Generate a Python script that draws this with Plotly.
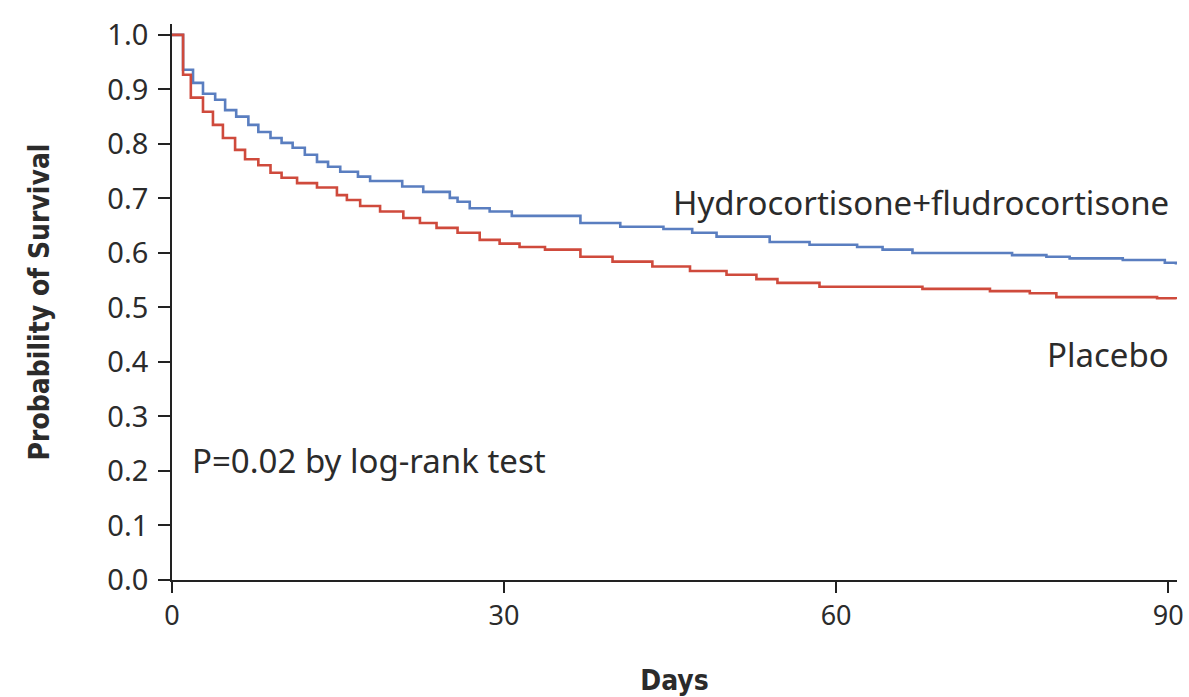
import plotly.graph_objects as go

# Kaplan-Meier step data
hf_days = [0, 1.0, 1.9, 2.8, 3.9, 4.8, 5.8, 6.9, 7.8, 8.9, 9.9, 10.9, 12.0, 13.1, 14.1, 15.2,
           16.8, 17.9, 20.8, 22.7, 25.1, 25.8, 26.9, 28.7, 30.7, 36.9, 40.5, 44.4, 47.0, 49.2,
           54.0, 57.6, 61.9, 64.2, 66.9, 75.9, 79.0, 81.1, 85.9, 89.7, 90.7]
hf_surv = [1.0, 0.936, 0.912, 0.892, 0.881, 0.862, 0.850, 0.835, 0.822, 0.811, 0.802, 0.793, 0.780,
           0.767, 0.758, 0.749, 0.740, 0.732, 0.722, 0.712, 0.701, 0.694, 0.682, 0.676, 0.668,
           0.655, 0.648, 0.644, 0.637, 0.630, 0.620, 0.615, 0.611, 0.606, 0.600, 0.596, 0.593,
           0.590, 0.587, 0.582, 0.579]

pl_days = [0, 1.0, 1.7, 2.8, 3.7, 4.6, 5.7, 6.6, 7.8, 8.9, 9.9, 11.3, 13.1, 14.9, 15.8, 17.0,
           18.8, 20.9, 22.4, 23.9, 25.8, 27.8, 29.6, 31.4, 33.7, 36.9, 39.8, 43.4, 46.8, 50.1,
           52.8, 54.7, 58.5, 67.8, 73.9, 77.5, 79.9, 89.0, 90.7]
pl_surv = [1.0, 0.927, 0.885, 0.859, 0.835, 0.811, 0.789, 0.772, 0.761, 0.747, 0.738, 0.728, 0.720,
           0.706, 0.697, 0.686, 0.676, 0.664, 0.655, 0.646, 0.637, 0.624, 0.617, 0.611, 0.606,
           0.593, 0.584, 0.575, 0.567, 0.560, 0.552, 0.545, 0.538, 0.534, 0.530, 0.526, 0.519,
           0.517, 0.515]

x_ticks = [0, 30, 60, 90]
y_ticks = [0.0, 0.1, 0.2, 0.3, 0.4, 0.5, 0.6, 0.7, 0.8, 0.9, 1.0]
y_tick_text = [f"{v:.1f}" for v in y_ticks]

BLUE = "#5a7ec0"
RED = "#cf4a3c"
TXT = "#2b2b2b"
COND = "DejaVu Sans Condensed, Liberation Sans Narrow, sans-serif"

fig = go.Figure()
fig.add_trace(go.Scatter(x=hf_days, y=hf_surv, mode="lines", line=dict(color=BLUE, width=2.6, shape="hv"),
                         name="Hydrocortisone+fludrocortisone", hoverinfo="skip"))
fig.add_trace(go.Scatter(x=pl_days, y=pl_surv, mode="lines", line=dict(color=RED, width=2.6, shape="hv"),
                         name="Placebo", hoverinfo="skip"))

fig.update_layout(
    width=1189, height=697,
    margin=dict(l=172, r=12, t=24, b=117),
    plot_bgcolor="white", paper_bgcolor="white",
    showlegend=False,
    font=dict(family="Noto Sans, Open Sans, sans-serif", color=TXT),
)

fig.update_xaxes(
    range=[0, 90.8], tickvals=x_ticks, ticktext=[str(v) for v in x_ticks], automargin=False,
    showgrid=False, zeroline=False, showline=True, linecolor="#222", linewidth=1.8,
    ticks="outside", ticklen=11, tickwidth=1.5, tickcolor="#222",
    tickfont=dict(size=27, family="Noto Sans, sans-serif", color=TXT),
    title=dict(text="<b>Days</b>", font=dict(size=28, family=COND, color=TXT), standoff=40),
)
fig.update_yaxes(
    range=[0, 1.02], tickvals=y_ticks, ticktext=y_tick_text, automargin=False,
    showgrid=False, zeroline=False, showline=True, linecolor="#222", linewidth=1.8,
    ticks="outside", ticklen=12, tickwidth=1.5, tickcolor="#222", ticklabelstandoff=4,
    tickfont=dict(size=29, family="Noto Sans, Open Sans, sans-serif", color=TXT),
    title=dict(text="<b>Probability of Survival</b>", font=dict(size=28, family=COND, color=TXT), standoff=50),
)

fig.add_annotation(x=90.3, y=0.692, xref="x", yref="y", text="Hydrocortisone+fludrocortisone",
                   showarrow=False, xanchor="right", yanchor="middle", font=dict(size=33, color=TXT))
fig.add_annotation(x=90.3, y=0.413, xref="x", yref="y", text="Placebo",
                   showarrow=False, xanchor="right", yanchor="middle", font=dict(size=33, color=TXT))
fig.add_annotation(x=1.6, y=0.22, xref="x", yref="y", text="P=0.02 by log-rank test",
                   showarrow=False, xanchor="left", yanchor="middle", font=dict(size=33, color=TXT))

fig.write_html("out.html")
